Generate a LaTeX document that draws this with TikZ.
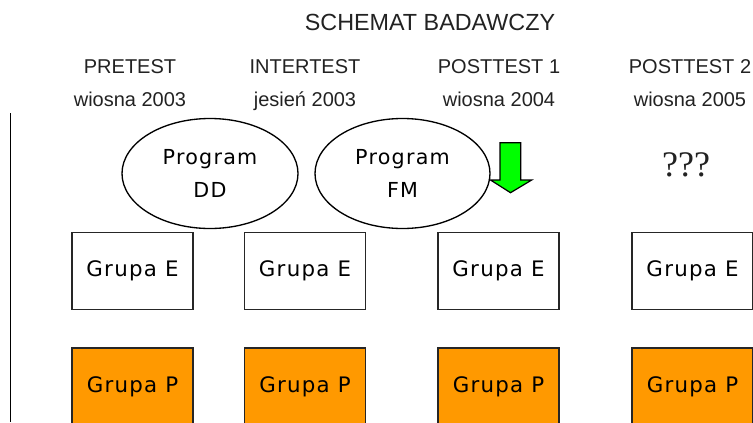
\documentclass[tikz,border=0pt]{standalone}
\usepackage{fontspec}
\setmainfont{Liberation Sans}
\newfontfamily\dejavu[LetterSpace=6]{DejaVu Sans}
\newfontfamily\serifq{Liberation Serif}
\usetikzlibrary{shapes.geometric}
\definecolor{grpOrange}{RGB}{255,153,0}
\definecolor{arrGreen}{RGB}{0,255,0}
\definecolor{txtGray}{RGB}{34,34,34}
\tikzset{
  grupa/.style={draw=black!85, line width=0.8pt, minimum width=90.75pt,
    minimum height=57.75pt, inner sep=0pt, font=\dejavu\fontsize{16}{18}\selectfont},
  prog/.style={ellipse, draw, line width=1pt, inner sep=0pt, align=center,
    minimum height=82.5pt, font=\dejavu\fontsize{15.5}{24.5}\selectfont},
  head/.style={anchor=base, text=txtGray, font=\fontsize{15}{18}\selectfont}
}

\begin{document}
\begin{tikzpicture}[x=0.75pt, y=-0.75pt]
        \useasboundingbox (0,0) rectangle (753,422);
        \clip (0,0) rectangle (753,422);

        \node[head, font=\fontsize{17.5}{20}\selectfont] (title) at (430,30) {SCHEMAT BADAWCZY};

        \foreach \x/\t/\d [count=\i] in {130/PRETEST/wiosna 2003, 305/INTERTEST/jesień 2003,
            499/POSTTEST 1/wiosna 2004, 690/POSTTEST 2/wiosna 2005} {
          \node[head] (test\i) at (\x,73) {\t};
          \node[head] (date\i) at (\x,106.7) {\d};
        }

        \draw[line width=0.8pt] (10.5,113) -- (10.5,422);

        \node[prog, minimum width=132pt] (dd) at (210,173.5) {Program\\DD};
        \node[prog, minimum width=131.25pt] (fm) at (402.5,173.5) {Program\\FM};

        \draw[line width=0.9pt, fill=arrGreen] (500,142.7) -- (520.7,142.7) -- (520.7,180)
          -- (531.7,180) -- (510.5,192.7) -- (490.5,180) -- (500,180) -- cycle;
        \node[font=\serifq\fontsize{27}{30}\selectfont, text=txtGray] (qq) at (686,164.5) {???};

        \foreach \x [count=\i] in {132.5, 305, 498.5, 692.5} {
          \node[grupa] (e\i) at (\x,271) {Grupa E};
          \node[grupa, fill=grpOrange] (p\i) at (\x,386.5) {Grupa P};
        }
      \end{tikzpicture}
\end{document}
